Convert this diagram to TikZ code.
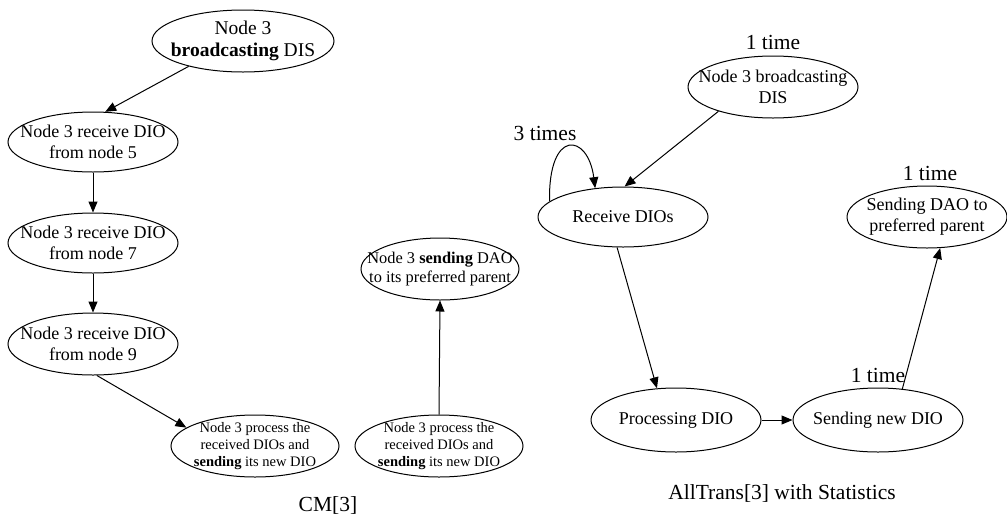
\documentclass[tikz,border=0pt]{standalone}
\usepackage{fontspec}
\setmainfont{Liberation Serif}
\usetikzlibrary{shapes.geometric,arrows.meta}
\begin{document}
\begin{tikzpicture}[x=1pt,y=-1pt,
  ell/.style={ellipse,draw,line width=1pt,inner sep=0pt},
  txt/.style={inner sep=0pt,align=center,font=\fontsize{18}{21}\selectfont},
  txtsmall/.style={inner sep=0pt,align=center,font=\fontsize{14.5}{17.3}\selectfont},
  txtmid/.style={inner sep=0pt,align=center,font=\fontsize{16.4}{19}\selectfont},
  txtbig/.style={inner sep=0pt,align=center,font=\fontsize{19.5}{22}\selectfont},
  lbl/.style={inner sep=0pt,font=\fontsize{21.5}{24}\selectfont},
  arr/.style={line width=1pt,-{Triangle[length=11pt,width=9pt]}}]
\useasboundingbox (0,0) rectangle (1007,515);
% ---------- left: CM[3] ----------
\node[ell,minimum width=182pt,minimum height=62pt] (bL) at (243,41) {};
\node[txtbig] (bLt) at (bL) {Node 3\\\textbf{broadcasting} DIS};
\node[ell,minimum width=170pt,minimum height=60pt] (n5) at (93,142) {};
\node[txt] (n5t) at (n5) {Node 3 receive DIO\\from node 5};
\node[ell,minimum width=170pt,minimum height=60pt] (n7) at (93,243) {};
\node[txt] (n7t) at (n7) {Node 3 receive DIO\\from node 7};
\node[ell,minimum width=170pt,minimum height=62pt] (n9) at (93,344) {};
\node[txt] (n9t) at (n9) {Node 3 receive DIO\\from node 9};
\node[ell,minimum width=168pt,minimum height=62pt] (pL) at (255,446) {};
\node[txtsmall] (pLt) at (pL) {Node 3 process the\\received DIOs and\\\textbf{sending} its new DIO};
\node[ell,minimum width=168pt,minimum height=62pt] (pR) at (439,446) {};
\node[txtsmall] (pRt) at (pR) {Node 3 process the\\received DIOs and\\\textbf{sending} its new DIO};
\node[ell,minimum width=158pt,minimum height=62pt] (dL) at (440,269) {};
\node[txtmid] (dLt) at (dL) {Node 3 \textbf{sending} DAO\\to its preferred parent};
\node[lbl] (cm) at (328,505) {CM[3]};
\draw[arr] (bL.205) -- (n5.68);
\draw[arr] (n5.south) -- (n7.north);
\draw[arr] (n7.south) -- (n9.north);
\draw[arr] (n9.277) -- (pL.165);
\draw[arr] (pR.north) -- (dL.south);
% ---------- right: AllTrans[3] ----------
\node[ell,minimum width=170pt,minimum height=62pt] (bR) at (773,87) {};
\node[txt] (bRt) at (bR) {Node 3 broadcasting\\DIS};
\node[lbl] (bRl) at (773,42) {1 time};
\node[ell,minimum width=170pt,minimum height=60pt] (rc) at (623,217) {};
\node[txt] (rct) at (rc) {Receive DIOs};
\node[lbl] (rcl) at (545,133) {3 times};
\node[ell,minimum width=170pt,minimum height=64pt] (pd) at (676,420) {};
\node[txt] (pdt) at (pd) {Processing DIO};
\node[ell,minimum width=170pt,minimum height=64pt] (sn) at (878,420) {};
\node[txt] (snt) at (sn) {Sending new DIO};
\node[lbl] (snl) at (878,375) {1 time};
\node[ell,minimum width=160pt,minimum height=62pt] (sd) at (927,217) {};
\node[txt] (sdt) at (sd) {Sending DAO to\\preferred parent};
\node[lbl] (sdl) at (930,173) {1 time};
\node[lbl] (at) at (782,493) {AllTrans[3] with Statistics};
\draw[arr] (bR.204) -- (rc.87);
\draw[arr] (rc.168) .. controls (548,128) and (588,133) .. (rc.134);
\draw[arr] (rc.259) -- (pd.121);
\draw[arr] (pd.east) -- (sn.west);
\draw[arr] (sn.52) -- (sd.293);
\end{tikzpicture}
\end{document}
